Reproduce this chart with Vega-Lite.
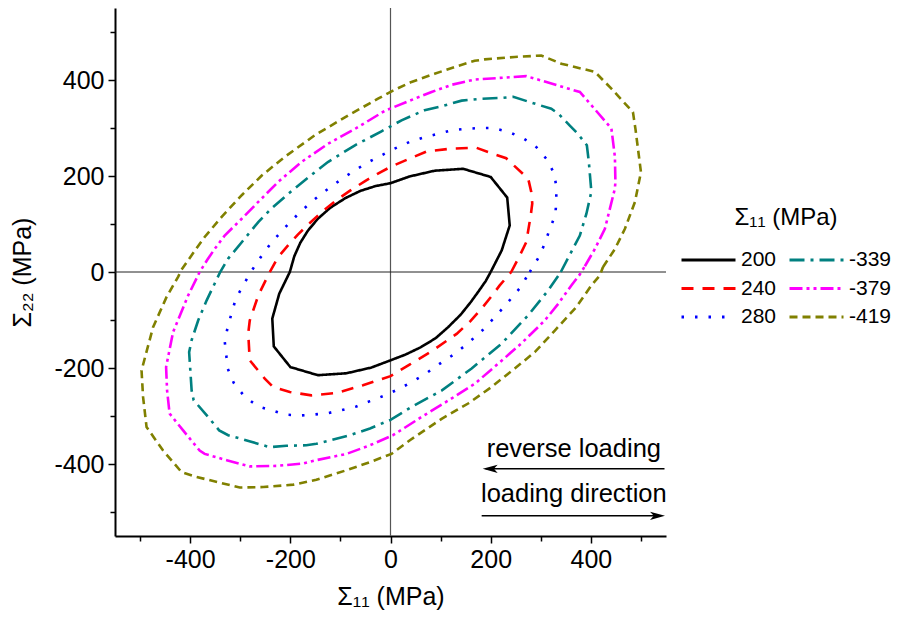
{
  "$schema": "https://vega.github.io/schema/vega-lite/v6.json",
  "autosize": {"type": "none"},
  "padding": {"left": 115, "top": 8, "right": 233, "bottom": 83},
  "width": 551,
  "height": 528,
  "datasets": {
    "curves": [
      {"s":"200","x":200,"y":0},{"s":"200","x":222,"y":45},{"s":"200","x":238,"y":97},{"s":"200","x":233,"y":155},{"s":"200","x":200,"y":198},{"s":"200","x":145,"y":215},{"s":"200","x":88,"y":211},{"s":"200","x":38,"y":199},{"s":"200","x":0,"y":185},{"s":"200","x":-30,"y":179},{"s":"200","x":-60,"y":169},{"s":"200","x":-90,"y":154},{"s":"200","x":-120,"y":134},{"s":"200","x":-145,"y":111},{"s":"200","x":-165,"y":86},{"s":"200","x":-180,"y":61},{"s":"200","x":-192,"y":33},{"s":"200","x":-201,"y":0},{"s":"200","x":-222,"y":-45},{"s":"200","x":-236,"y":-97},{"s":"200","x":-233,"y":-155},{"s":"200","x":-200,"y":-198},{"s":"200","x":-145,"y":-215},{"s":"200","x":-88,"y":-211},{"s":"200","x":-38,"y":-199},{"s":"200","x":0,"y":-184},{"s":"200","x":30,"y":-172},{"s":"200","x":60,"y":-157},{"s":"200","x":90,"y":-138},{"s":"200","x":115,"y":-115},{"s":"200","x":140,"y":-89},{"s":"200","x":160,"y":-63},{"s":"200","x":176,"y":-40},{"s":"200","x":190,"y":-19},{"s":"200","x":200,"y":0},

      {"s":"240","x":241,"y":0},{"s":"240","x":256,"y":30},{"s":"240","x":271,"y":62},{"s":"240","x":280,"y":118},{"s":"240","x":283,"y":143},{"s":"240","x":281,"y":167},{"s":"240","x":275,"y":194},{"s":"240","x":231,"y":237},{"s":"240","x":200,"y":248},{"s":"240","x":171,"y":259},{"s":"240","x":120,"y":257},{"s":"240","x":72,"y":251},{"s":"240","x":40,"y":237},{"s":"240","x":0,"y":219},{"s":"240","x":-25,"y":205},{"s":"240","x":-50,"y":190},{"s":"240","x":-80,"y":170},{"s":"240","x":-110,"y":148},{"s":"240","x":-135,"y":127},{"s":"240","x":-160,"y":103},{"s":"240","x":-185,"y":78},{"s":"240","x":-205,"y":55},{"s":"240","x":-225,"y":30},{"s":"240","x":-241,"y":0},{"s":"240","x":-264,"y":-49},{"s":"240","x":-281,"y":-101},{"s":"240","x":-284,"y":-128},{"s":"240","x":-281,"y":-184},{"s":"240","x":-251,"y":-222},{"s":"240","x":-234,"y":-240},{"s":"240","x":-201,"y":-250},{"s":"240","x":-158,"y":-257},{"s":"240","x":-108,"y":-252},{"s":"240","x":-55,"y":-236},{"s":"240","x":0,"y":-217},{"s":"240","x":38,"y":-193},{"s":"240","x":85,"y":-163},{"s":"240","x":132,"y":-129},{"s":"240","x":160,"y":-102},{"s":"240","x":182,"y":-76},{"s":"240","x":202,"y":-50},{"s":"240","x":218,"y":-28},{"s":"240","x":241,"y":0},

      {"s":"280","x":278,"y":0},{"s":"280","x":296,"y":31},{"s":"280","x":308,"y":59},{"s":"280","x":318,"y":90},{"s":"280","x":329,"y":118},{"s":"280","x":331,"y":147},{"s":"280","x":331,"y":177},{"s":"280","x":327,"y":205},{"s":"280","x":311,"y":236},{"s":"280","x":288,"y":264},{"s":"280","x":261,"y":281},{"s":"280","x":235,"y":292},{"s":"280","x":205,"y":300},{"s":"280","x":178,"y":300},{"s":"280","x":148,"y":298},{"s":"280","x":122,"y":295},{"s":"280","x":95,"y":288},{"s":"280","x":65,"y":280},{"s":"280","x":38,"y":271},{"s":"280","x":8,"y":257},{"s":"280","x":-18,"y":243},{"s":"280","x":-46,"y":228},{"s":"280","x":-74,"y":210},{"s":"280","x":-101,"y":191},{"s":"280","x":-130,"y":169},{"s":"280","x":-158,"y":146},{"s":"280","x":-186,"y":119},{"s":"280","x":-213,"y":90},{"s":"280","x":-238,"y":61},{"s":"280","x":-259,"y":31},{"s":"280","x":-279,"y":0},{"s":"280","x":-293,"y":-26},{"s":"280","x":-309,"y":-56},{"s":"280","x":-317,"y":-85},{"s":"280","x":-325,"y":-115},{"s":"280","x":-331,"y":-144},{"s":"280","x":-328,"y":-172},{"s":"280","x":-325,"y":-201},{"s":"280","x":-313,"y":-231},{"s":"280","x":-291,"y":-260},{"s":"280","x":-264,"y":-280},{"s":"280","x":-238,"y":-288},{"s":"280","x":-211,"y":-297},{"s":"280","x":-181,"y":-299},{"s":"280","x":-153,"y":-297},{"s":"280","x":-125,"y":-294},{"s":"280","x":-98,"y":-288},{"s":"280","x":-68,"y":-280},{"s":"280","x":-41,"y":-269},{"s":"280","x":-11,"y":-257},{"s":"280","x":14,"y":-245},{"s":"280","x":43,"y":-229},{"s":"280","x":70,"y":-212},{"s":"280","x":97,"y":-192},{"s":"280","x":126,"y":-172},{"s":"280","x":154,"y":-149},{"s":"280","x":183,"y":-122},{"s":"280","x":210,"y":-92},{"s":"280","x":233,"y":-65},{"s":"280","x":257,"y":-35},{"s":"280","x":278,"y":0},

      {"s":"-339","x":340,"y":0},{"s":"-339","x":361,"y":42},{"s":"-339","x":378,"y":76},{"s":"-339","x":391,"y":121},{"s":"-339","x":401,"y":167},{"s":"-339","x":396,"y":229},{"s":"-339","x":392,"y":264},{"s":"-339","x":374,"y":288},{"s":"-339","x":358,"y":305},{"s":"-339","x":335,"y":330},{"s":"-339","x":321,"y":340},{"s":"-339","x":275,"y":355},{"s":"-339","x":245,"y":365},{"s":"-339","x":225,"y":363},{"s":"-339","x":182,"y":361},{"s":"-339","x":142,"y":357},{"s":"-339","x":105,"y":346},{"s":"-339","x":68,"y":337},{"s":"-339","x":22,"y":316},{"s":"-339","x":-18,"y":293},{"s":"-339","x":-71,"y":264},{"s":"-339","x":-125,"y":229},{"s":"-339","x":-151,"y":208},{"s":"-339","x":-204,"y":163},{"s":"-339","x":-238,"y":132},{"s":"-339","x":-264,"y":104},{"s":"-339","x":-297,"y":62},{"s":"-339","x":-324,"y":28},{"s":"-339","x":-340,"y":0},{"s":"-339","x":-367,"y":-59},{"s":"-339","x":-384,"y":-101},{"s":"-339","x":-397,"y":-142},{"s":"-339","x":-402,"y":-167},{"s":"-339","x":-397,"y":-247},{"s":"-339","x":-393,"y":-267},{"s":"-339","x":-364,"y":-302},{"s":"-339","x":-342,"y":-330},{"s":"-339","x":-324,"y":-340},{"s":"-339","x":-287,"y":-351},{"s":"-339","x":-241,"y":-365},{"s":"-339","x":-208,"y":-362},{"s":"-339","x":-168,"y":-361},{"s":"-339","x":-148,"y":-358},{"s":"-339","x":-121,"y":-351},{"s":"-339","x":-81,"y":-340},{"s":"-339","x":-41,"y":-326},{"s":"-339","x":0,"y":-308},{"s":"-339","x":42,"y":-281},{"s":"-339","x":102,"y":-247},{"s":"-339","x":162,"y":-201},{"s":"-339","x":222,"y":-149},{"s":"-339","x":275,"y":-90},{"s":"-339","x":315,"y":-38},{"s":"-339","x":340,"y":0},

      {"s":"-379","x":388,"y":12},{"s":"-379","x":408,"y":48},{"s":"-379","x":428,"y":90},{"s":"-379","x":448,"y":174},{"s":"-379","x":449,"y":188},{"s":"-379","x":448,"y":240},{"s":"-379","x":441,"y":299},{"s":"-379","x":398,"y":351},{"s":"-379","x":378,"y":375},{"s":"-379","x":301,"y":399},{"s":"-379","x":271,"y":408},{"s":"-379","x":228,"y":405},{"s":"-379","x":168,"y":401},{"s":"-379","x":122,"y":390},{"s":"-379","x":82,"y":375},{"s":"-379","x":48,"y":361},{"s":"-379","x":-11,"y":336},{"s":"-379","x":-71,"y":298},{"s":"-379","x":-125,"y":267},{"s":"-379","x":-178,"y":229},{"s":"-379","x":-224,"y":188},{"s":"-379","x":-264,"y":146},{"s":"-379","x":-297,"y":111},{"s":"-379","x":-331,"y":76},{"s":"-379","x":-351,"y":48},{"s":"-379","x":-366,"y":25},{"s":"-379","x":-381,"y":0},{"s":"-379","x":-404,"y":-49},{"s":"-379","x":-434,"y":-125},{"s":"-379","x":-448,"y":-198},{"s":"-379","x":-446,"y":-247},{"s":"-379","x":-441,"y":-295},{"s":"-379","x":-414,"y":-330},{"s":"-379","x":-381,"y":-372},{"s":"-379","x":-371,"y":-379},{"s":"-379","x":-327,"y":-392},{"s":"-379","x":-281,"y":-405},{"s":"-379","x":-228,"y":-404},{"s":"-379","x":-174,"y":-399},{"s":"-379","x":-148,"y":-392},{"s":"-379","x":-88,"y":-379},{"s":"-379","x":-41,"y":-361},{"s":"-379","x":5,"y":-340},{"s":"-379","x":62,"y":-302},{"s":"-379","x":115,"y":-268},{"s":"-379","x":168,"y":-233},{"s":"-379","x":215,"y":-191},{"s":"-379","x":261,"y":-149},{"s":"-379","x":308,"y":-101},{"s":"-379","x":335,"y":-66},{"s":"-379","x":361,"y":-28},{"s":"-379","x":378,"y":-5},{"s":"-379","x":388,"y":12},

      {"s":"-419","x":424,"y":10},{"s":"-419","x":448,"y":48},{"s":"-419","x":468,"y":90},{"s":"-419","x":488,"y":146},{"s":"-419","x":500,"y":208},{"s":"-419","x":489,"y":298},{"s":"-419","x":484,"y":333},{"s":"-419","x":441,"y":382},{"s":"-419","x":408,"y":417},{"s":"-419","x":341,"y":434},{"s":"-419","x":301,"y":451},{"s":"-419","x":248,"y":448},{"s":"-419","x":188,"y":443},{"s":"-419","x":168,"y":440},{"s":"-419","x":128,"y":427},{"s":"-419","x":88,"y":413},{"s":"-419","x":42,"y":396},{"s":"-419","x":5,"y":378},{"s":"-419","x":-25,"y":361},{"s":"-419","x":-85,"y":326},{"s":"-419","x":-151,"y":285},{"s":"-419","x":-211,"y":240},{"s":"-419","x":-257,"y":201},{"s":"-419","x":-297,"y":160},{"s":"-419","x":-337,"y":115},{"s":"-419","x":-371,"y":73},{"s":"-419","x":-397,"y":35},{"s":"-419","x":-417,"y":5},{"s":"-419","x":-424,"y":-10},{"s":"-419","x":-447,"y":-52},{"s":"-419","x":-474,"y":-115},{"s":"-419","x":-497,"y":-205},{"s":"-419","x":-494,"y":-260},{"s":"-419","x":-487,"y":-323},{"s":"-419","x":-454,"y":-372},{"s":"-419","x":-417,"y":-417},{"s":"-419","x":-387,"y":-427},{"s":"-419","x":-301,"y":-449},{"s":"-419","x":-254,"y":-448},{"s":"-419","x":-194,"y":-443},{"s":"-419","x":-148,"y":-433},{"s":"-419","x":-88,"y":-413},{"s":"-419","x":-41,"y":-396},{"s":"-419","x":2,"y":-379},{"s":"-419","x":38,"y":-351},{"s":"-419","x":102,"y":-306},{"s":"-419","x":155,"y":-274},{"s":"-419","x":201,"y":-240},{"s":"-419","x":248,"y":-201},{"s":"-419","x":288,"y":-167},{"s":"-419","x":328,"y":-122},{"s":"-419","x":371,"y":-73},{"s":"-419","x":401,"y":-28},{"s":"-419","x":418,"y":-7},{"s":"-419","x":424,"y":10}
    ]
  },
  "layer": [
    {
      "data": {"values": [{"x": 0}]},
      "mark": {"type": "rule", "color": "#555555", "strokeWidth": 1.2},
      "encoding": {"x": {"field": "x", "type": "quantitative", "scale": {"domain": [-550, 550]}}}
    },
    {
      "data": {"values": [{"y": 0}]},
      "mark": {"type": "rule", "color": "#222222", "strokeWidth": 1},
      "encoding": {"y": {"field": "y", "type": "quantitative", "scale": {"domain": [-550, 550]}}}
    },
    {
      "data": {"name": "curves"},
      "mark": {"type": "line", "strokeWidth": 2.6, "clip": true},
      "encoding": {
        "x": {
          "field": "x", "type": "quantitative",
          "scale": {"domain": [-550, 550], "nice": false},
          "axis": {
            "title": "Σ₁₁ (MPa)",
            "values": [-500, -400, -300, -200, -100, 0, 100, 200, 300, 400, 500],
            "labelExpr": "datum.value % 200 === 0 ? toString(datum.value) : ''",
            "tickSize": {"condition": {"test": "datum.value % 200 === 0", "value": 7}, "value": 5}
          }
        },
        "y": {
          "field": "y", "type": "quantitative",
          "scale": {"domain": [-550, 550], "nice": false},
          "axis": {
            "title": "Σ₂₂ (MPa)",
            "values": [-500, -400, -300, -200, -100, 0, 100, 200, 300, 400, 500],
            "labelExpr": "datum.value % 200 === 0 ? toString(datum.value) : ''",
            "tickSize": {"condition": {"test": "datum.value % 200 === 0", "value": 7}, "value": 5}
          }
        },
        "color": {
          "field": "s", "type": "nominal",
          "scale": {
            "domain": ["200", "240", "280", "-339", "-379", "-419"],
            "range": ["#000000", "#FF0000", "#0000FF", "#008080", "#FF00FF", "#808000"]
          },
          "legend": {"title": "Σ₁₁ (MPa)"}
        },
        "strokeDash": {
          "field": "s", "type": "nominal",
          "scale": {
            "domain": ["200", "240", "280", "-339", "-379", "-419"],
            "range": [[1, 0], [12, 9], [2.5, 11], [15, 6, 3, 6], [13, 4, 3, 4, 3, 4], [8, 5]]
          },
          "legend": {"title": "Σ₁₁ (MPa)"}
        },
        "order": {"value": null}
      }
    },
    {
      "data": {"values": [{"x": 547, "x2": 190, "y": -410}, {"x": 182, "x2": 540, "y": -508}]},
      "mark": {"type": "rule", "color": "black", "strokeWidth": 1.5},
      "encoding": {
        "x": {"field": "x", "type": "quantitative"},
        "x2": {"field": "x2"},
        "y": {"field": "y", "type": "quantitative"}
      }
    },
    {
      "data": {"values": [{"x": 184, "y": -410}]},
      "mark": {"type": "point", "filled": true, "color": "black", "opacity": 1, "size": 225, "shape": "M0,0L2,-0.55L1.5,0L2,0.55Z"},
      "encoding": {
        "x": {"field": "x", "type": "quantitative"},
        "y": {"field": "y", "type": "quantitative"}
      }
    },
    {
      "data": {"values": [{"x": 548, "y": -508}]},
      "mark": {"type": "point", "filled": true, "color": "black", "opacity": 1, "size": 225, "shape": "M0,0L-2,-0.55L-1.5,0L-2,0.55Z"},
      "encoding": {
        "x": {"field": "x", "type": "quantitative"},
        "y": {"field": "y", "type": "quantitative"}
      }
    },
    {
      "data": {"values": [{"x": 366, "y": -385, "t": "reverse loading"}, {"x": 366, "y": -479, "t": "loading direction"}]},
      "mark": {"type": "text", "fontSize": 25.5, "font": "Liberation Sans", "align": "center", "baseline": "alphabetic", "color": "black"},
      "encoding": {
        "x": {"field": "x", "type": "quantitative"},
        "y": {"field": "y", "type": "quantitative"},
        "text": {"field": "t"}
      }
    }
  ],
  "config": {
    "view": {"stroke": null},
    "font": "Liberation Sans",
    "axis": {
      "grid": false,
      "domainColor": "black",
      "domainWidth": 2,
      "tickColor": "black",
      "tickWidth": 1.5,
      "labelFont": "Liberation Sans",
      "labelFontSize": 25,
      "labelColor": "black",
      "labelPadding": 4,
      "labelFlush": false,
      "labelOverlap": false,
      "titleFont": "Liberation Sans",
      "titleFontSize": 25,
      "titleFontWeight": "normal",
      "titleColor": "black"
    },
    "axisX": {"titlePadding": 12},
    "axisY": {"titlePadding": 18},
    "legend": {
      "orient": "none",
      "legendX": 565,
      "legendY": 198,
      "columns": 2,
      "symbolType": "stroke",
      "symbolSize": 2916,
      "symbolStrokeWidth": 3,
      "clipHeight": 26,
      "labelFont": "Liberation Sans",
      "labelFontSize": 21,
      "labelColor": "black",
      "labelOffset": 4,
      "labelLimit": 200,
      "titleFont": "Liberation Sans",
      "titleFontSize": 24,
      "titleFontWeight": "normal",
      "titleColor": "black",
      "titleAnchor": "middle",
      "titlePadding": 17,
      "rowPadding": 2.5,
      "columnPadding": 11
    }
  }
}
